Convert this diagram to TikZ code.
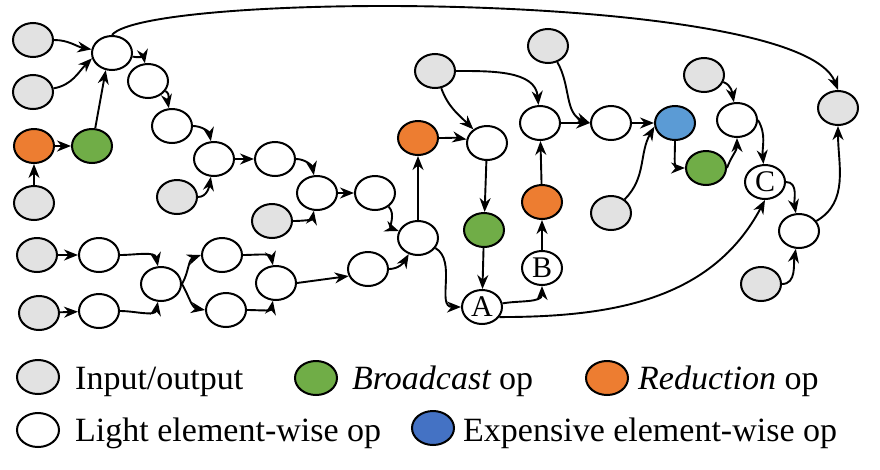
\documentclass[tikz,border=0pt]{standalone}
\usepackage{fontspec}
\setmainfont{Liberation Serif}
\usetikzlibrary{shapes.geometric,arrows.meta}
\definecolor{iogray}{HTML}{E2E2E2}
\definecolor{bcgreen}{HTML}{70AD47}
\definecolor{rdorange}{HTML}{ED7D31}
\definecolor{expblue}{HTML}{5B9BD5}
\definecolor{legblue}{HTML}{4472C4}
\begin{document}
\begin{tikzpicture}[x=1pt,y=1pt,
		op/.style={ellipse, draw, line width=2pt, minimum width=40pt, minimum height=34pt, inner sep=0pt, font=\fontsize{30}{30}\selectfont},
		io/.style={op, fill=iogray},
		light/.style={op, fill=white},
		bcast/.style={op, fill=bcgreen},
		reduce/.style={op, fill=rdorange},
		expens/.style={op, fill=expblue},
		legend/.style={minimum width=42pt, minimum height=34pt},
		legtext/.style={anchor=base west, inner sep=0pt, font=\fontsize{34}{40}\selectfont},
		flow/.style={-{Stealth[length=14pt,width=11pt,inset=4.5pt]}, line width=1.9pt},
		]
		\useasboundingbox (0,0) rectangle (880,-469);
		% left part
		\node[io] (in1) at (33,-40) {};
		\node[io] (in2) at (33,-92) {};
		\node[reduce] (red1) at (34,-146) {};
		\node[io] (in3) at (34,-203) {};
		\node[bcast] (bc1) at (92,-146) {};
		\node[light] (l1) at (112,-53) {};
		\node[light] (l2) at (148,-81) {};
		\node[light] (l3) at (172,-126) {};
		\node[light] (l4) at (214,-159) {};
		\node[light] (l5) at (275,-159) {};
		\node[io] (in4) at (177,-197) {};
		\node[io] (in5) at (272,-221) {};
		\node[light] (l6) at (317,-193) {};
		\node[light] (l7) at (375,-193) {};
		\node[light] (l8) at (418,-238) {};
		\node[io] (in6) at (37,-255) {};
		\node[io] (in7) at (39,-313) {};
		\node[light] (l9) at (99,-255) {};
		\node[light] (l10) at (99,-311) {};
		\node[light] (l11) at (161,-284) {};
		\node[light] (l12) at (222,-255) {};
		\node[light] (l13) at (226,-310) {};
		\node[light] (l14) at (276,-283) {};
		\node[light] (l15) at (368,-269) {};
		% middle part
		\node[reduce] (red2) at (418,-138) {};
		\node[io] (in8) at (435,-71) {};
		\node[light] (l16) at (487,-143) {};
		\node[bcast] (bc2) at (484,-230) {};
		\node[light] (nA) at (482,-307) {A};
		\node[light] (nB) at (542,-268) {B};
		\node[reduce] (red3) at (542,-202) {};
		\node[light] (l17) at (540,-123) {};
		% right part
		\node[io] (in9) at (548,-46) {};
		\node[light] (l18) at (611,-123) {};
		\node[expens] (exp1) at (675,-123) {};
		\node[io] (in10) at (611,-213) {};
		\node[bcast] (bc3) at (706,-168) {};
		\node[io] (in11) at (704,-75) {};
		\node[light] (l19) at (737,-120) {};
		\node[light] (nC) at (765,-182) {C};
		\node[light] (l20) at (799,-231) {};
		\node[io] (in12) at (761,-284) {};
		\node[io] (out1) at (838,-108) {};
		% edges
		\draw[flow] (in1) to[out=0,in=170] (l1);
		\draw[flow] (in2) to[out=10,in=225] (l1.195);
		\draw[flow] (bc1) -- (l1.250);
		\draw[flow] (in3) -- (red1);
		\draw[flow] (red1) -- (bc1);
		\draw[flow] (l1) to[out=-10,in=100] (l2);
		\draw[flow] (l2) to[out=-30,in=100] (l3);
		\draw[flow] (l3) to[out=0,in=100] (l4);
		\draw[flow] (in4) to[out=0,in=-100] (l4);
		\draw[flow] (l4) -- (l5);
		\draw[flow] (l5) to[out=0,in=100] (l6);
		\draw[flow] (in5) to[out=0,in=-100] (l6);
		\draw[flow] (l6) -- (l7);
		\draw[flow] (l7) to[out=-45,in=160] (l8);
		\draw[flow] (in6) -- (l9);
		\draw[flow] (in7) -- (l10);
		\draw[flow] (l9) to[out=0,in=100] (l11);
		\draw[flow] (l10) to[out=0,in=-100] (l11);
		\draw[flow] (l11.east) to[out=60,in=200] (l12.west);
		\draw[flow] (l11.east) to[out=-60,in=170] (l13.west);
		\draw[flow] (l12) to[out=0,in=100] (l14);
		\draw[flow] (l13) to[out=0,in=-100] (l14);
		\draw[flow] (l14.east) -- (l15.200);
		\draw[flow] (l15) to[out=0,in=-120] (l8);
		\draw[flow] (l8) -- (red2);
		\draw[flow] (l8) to[out=-30,in=180] (nA);
		\draw[flow] (red2) to[out=0,in=170] (l16);
		\draw[flow] (in8) to[out=-70,in=135] (l16);
		\draw[flow] (in8) to[out=0,in=95] (l17);
		\draw[flow] (l16) -- (bc2);
		\draw[flow] (bc2) -- (nA);
		\draw[flow] (nA) to[out=10,in=-90] (nB);
		\draw[flow] (nB) -- (red3);
		\draw[flow] (red3) -- (l17);
		\draw[flow] (nA.-30) to[out=0,in=-118] (nC.south);
		\draw[flow] (l17) -- (l18);
		\draw[flow] (in9) to[out=-60,in=160] (l18.west);
		\draw[flow] (l18) -- (exp1);
		\draw[flow] (in10) to[out=45,in=-120] (exp1.190);
		\draw[flow] (exp1) to[out=-90,in=180] (bc3);
		\draw[flow] (bc3.east) to[out=70,in=-90] (l19);
		\draw[flow] (in11) to[out=-20,in=100] (l19);
		\draw[flow] (l19.east) to[out=-60,in=95] (nC);
		\draw[flow] (nC) to[out=0,in=100] (l20);
		\draw[flow] (in12) to[out=0,in=-100] (l20);
		\draw[flow] (l20) to[out=30,in=-90] (out1);
		\draw[flow] (l1.north) .. controls +(35,44) and +(-38,100) .. (out1.north);
		% legend
		\node[io,legend] (kio) at (38,-377) {};
		\node[legtext] (tio) at (75,-389) {Input/output};
		\node[bcast,legend] (kbc) at (316,-378) {};
		\node[legtext] (tbc) at (352,-389) {{\itshape Broadcast} op};
		\node[reduce,legend] (krd) at (607,-378) {};
		\node[legtext] (trd) at (638,-389) {{\itshape Reduction} op};
		\node[light,legend] (klt) at (38,-430) {};
		\node[legtext] (tlt) at (75,-441) {Light element-wise op};
		\node[expens,legend,fill=legblue] (kex) at (433,-428) {};
		\node[legtext] (tex) at (463,-441) {Expensive element-wise op};
	\end{tikzpicture}
\end{document}
